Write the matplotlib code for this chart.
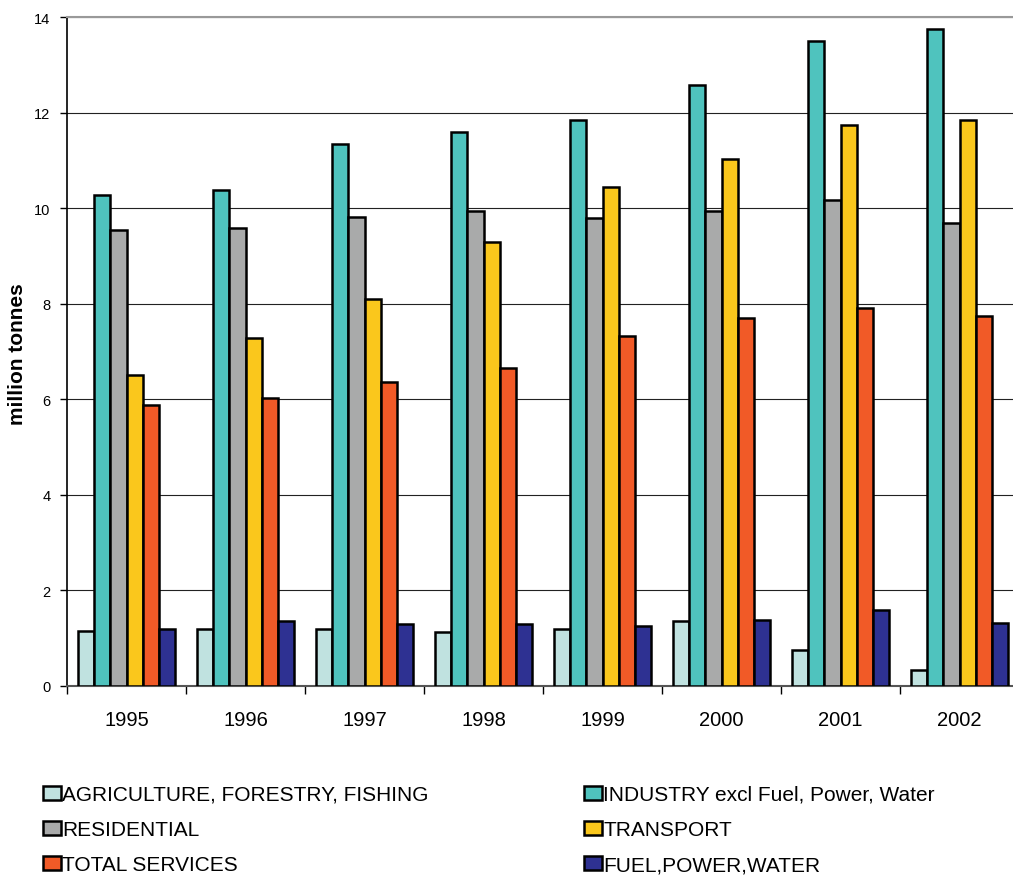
import matplotlib
matplotlib.use("Agg")
import matplotlib.pyplot as plt
import numpy as np

plt.rcParams['font.family'] = ['Liberation Sans', 'DejaVu Sans']

years = ["1995", "1996", "1997", "1998", "1999", "2000", "2001", "2002"]

agriculture = [1.15, 1.19, 1.19, 1.12, 1.20, 1.35, 0.76, 0.34]
industry = [10.27, 10.38, 11.35, 11.60, 11.85, 12.57, 13.50, 13.75]
residential = [9.55, 9.58, 9.81, 9.94, 9.80, 9.94, 10.17, 9.69]
transport = [6.51, 7.28, 8.10, 9.29, 10.45, 11.02, 11.74, 11.84]
services = [5.87, 6.02, 6.36, 6.65, 7.32, 7.70, 7.91, 7.74]
fuel_power_water = [1.19, 1.36, 1.30, 1.30, 1.25, 1.38, 1.59, 1.32]

series_names = [
    "AGRICULTURE, FORESTRY, FISHING",
    "INDUSTRY excl Fuel, Power, Water",
    "RESIDENTIAL",
    "TRANSPORT",
    "TOTAL SERVICES",
    "FUEL,POWER,WATER",
]
series_values = [agriculture, industry, residential, transport, services, fuel_power_water]
colors = ["#C0E2E0", "#4FC3BE", "#A9AAAA", "#FAC71C", "#F15A27", "#2E3192"]

fig = plt.figure(figsize=(10.13, 8.78), dpi=100)
ax = fig.add_axes([67 / 1013, 1 - 687 / 878, 952 / 1013, 669 / 878])

x = np.arange(len(years))
bar_w = 0.135
handles = []
for i, (vals, col) in enumerate(zip(series_values, colors)):
    offs = (i - 2.5) * bar_w
    b = ax.bar(x + offs, vals, width=bar_w, color=col, edgecolor="black",
               linewidth=1.8, zorder=3)
    handles.append(b)

ax.set_xlim(-0.5, len(years) - 0.5)
ax.set_ylim(0, 14)
ax.set_yticks(np.arange(0, 15, 2))
ax.set_yticklabels([str(v) for v in range(0, 15, 2)], fontsize=10.5)
ax.yaxis.grid(True, color="#222222", linewidth=0.8, zorder=0)
ax.set_axisbelow(True)

# category labels centred in each group, tick marks between groups
ax.set_xticks(x)
ax.set_xticklabels(years, fontsize=14.5)
ax.tick_params(axis="x", length=0, pad=17)
ax.set_xticks(np.arange(-0.5, len(years)), minor=True)
ax.tick_params(axis="x", which="minor", length=6, width=1, direction="out")
ax.tick_params(axis="y", length=5, width=1, direction="out", pad=7)

ax.spines["right"].set_visible(False)
ax.spines["top"].set_color("#999999")
ax.spines["top"].set_linewidth(1.5)
ax.spines["left"].set_linewidth(1.2)
ax.spines["bottom"].set_color("#555555")
ax.spines["bottom"].set_linewidth(1.5)

fig.text(18 / 1013, 1 - 354 / 878, "million tonnes", rotation=90, fontsize=15,
         fontweight="bold", ha="center", va="center")

leg_kw = dict(frameon=False, fontsize=15, handlelength=0.85, handleheight=0.68,
              handletextpad=0.08, labelspacing=0.77, borderpad=0, borderaxespad=0,
              loc="upper left")
left_idx = [0, 2, 4]
right_idx = [1, 3, 5]
fig.legend([handles[i] for i in left_idx], [series_names[i] for i in left_idx],
           bbox_to_anchor=(43 / 1013, 1 - 786 / 878), **leg_kw)
fig.legend([handles[i] for i in right_idx], [series_names[i] for i in right_idx],
           bbox_to_anchor=(584 / 1013, 1 - 786 / 878), **leg_kw)

fig.savefig("out.png", dpi=100)
